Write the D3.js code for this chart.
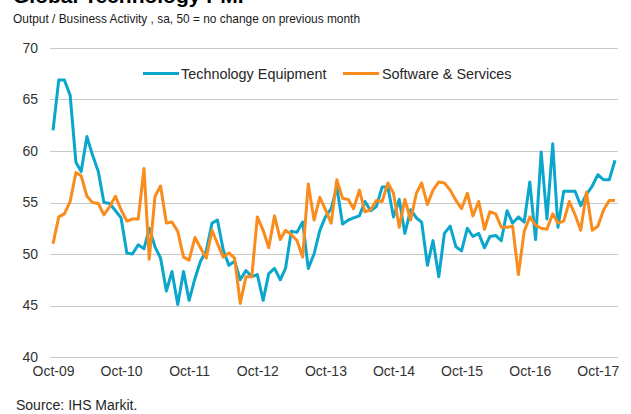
<!DOCTYPE html>
<html><head><meta charset="utf-8">
<script src="https://cdn.jsdelivr.net/npm/d3@7"></script>
<style>
html,body{margin:0;padding:0;background:#fff;}
svg{display:block;font-family:"Liberation Sans",Arial,sans-serif;}
</style></head>
<body><svg id="c" width="631" height="414"></svg>
<script>
const title = "Global Technology PMI";
const subtitle = "Output / Business Activity , sa, 50 = no change on previous month";
const source = "Source: IHS Markit.";
const startMonth = new Date(2009, 9, 1);
const endMonth = new Date(2018, 0, 1);
const seriesNames = ["Technology Equipment", "Software & Services"];
const seriesColors = ["#0BA6CC", "#FA8C1E"];
const yTicks = [40, 45, 50, 55, 60, 65, 70];
const xTickLabels = ["Oct-09","Oct-10","Oct-11","Oct-12","Oct-13","Oct-14","Oct-15","Oct-16","Oct-17"];

const techEquipment = [
62.0,66.9,66.9,65.4,58.9,58.0,61.4,59.6,58.0,55.0,
54.9,54.2,53.5,50.1,50.0,50.9,50.5,52.5,50.7,49.6,
46.4,48.3,45.1,48.3,45.5,47.6,49.3,50.3,53.0,53.3,
50.4,48.9,49.3,47.5,48.4,47.8,48.0,45.5,48.1,48.6,
47.5,48.6,52.2,52.1,53.1,48.6,50.0,52.3,53.6,54.4,
56.5,52.9,53.3,53.5,53.7,55.1,54.2,54.6,56.5,56.5,
53.6,55.3,52.0,54.3,53.5,53.1,48.9,51.3,47.8,52.0,
52.7,50.7,50.3,52.5,51.7,52.0,50.6,51.7,51.8,51.3,
54.2,53.0,53.6,53.1,57.0,51.4,59.9,53.4,60.7,52.6,
56.1,56.1,56.1,54.7,55.8,56.6,57.7,57.2,57.2,59.1];

const softwareServices = [
51.0,53.6,53.9,55.1,57.9,57.6,55.6,55.0,54.9,53.8,
54.6,55.6,54.3,53.2,53.4,53.4,58.3,49.5,55.6,56.6,
53.0,53.1,52.2,49.7,49.4,51.6,50.6,49.6,52.3,51.0,
49.7,50.1,49.6,45.2,47.8,47.8,53.6,52.3,50.6,53.7,
51.4,52.3,51.9,51.3,49.7,56.8,53.3,55.5,54.3,53.0,
57.2,55.4,55.3,54.4,56.2,54.1,54.3,55.2,55.1,56.9,
55.9,52.6,55.3,53.3,55.9,56.9,54.8,56.2,57.0,56.9,
56.2,55.2,54.4,55.9,53.7,55.1,52.4,54.1,53.9,52.6,
52.6,52.7,48.0,52.2,53.6,52.8,52.5,52.4,53.9,53.0,
53.2,55.1,53.8,52.3,56.0,52.3,52.7,54.3,55.2,55.2];

const months = d3.timeMonth.range(startMonth, d3.timeMonth.offset(endMonth, 1));
const svg = d3.select("#c");

const x = d3.scaleTime().domain([startMonth, endMonth]).range([53, 615]);
const y = d3.scaleLinear().domain([40, 70]).range([357, 48]);

// title & subtitle (title is cropped at the top edge, as in the source image)
svg.append("text").attr("x", 13).attr("y", 3).attr("font-size", 21).attr("font-weight", "bold")
  .attr("fill", "#000").text(title);
svg.append("text").attr("x", 13).attr("y", 23).attr("font-size", 13.5)
  .attr("textLength", 347).attr("lengthAdjust", "spacingAndGlyphs")
  .attr("fill", "#1a1a1a").text(subtitle);

// gridlines
const gridX0 = 50, gridX1 = 618;
svg.append("g").selectAll("line").data(yTicks).join("line")
  .attr("x1", gridX0).attr("x2", gridX1)
  .attr("y1", d => Math.round(y(d)) + 0.5).attr("y2", d => Math.round(y(d)) + 0.5)
  .attr("stroke", "#c8c8c8").attr("stroke-width", 1);

// y axis labels
const yAxis = d3.axisLeft(y).tickValues(yTicks).tickSize(0).tickPadding(0);
const gy = svg.append("g").attr("transform", "translate(38,0)").call(yAxis);
gy.select(".domain").remove();
gy.selectAll("text").attr("font-size", 14).attr("fill", "#333")
  .attr("font-family", "'Liberation Sans',Arial,sans-serif");

// x axis labels
const xTickDates = xTickLabels.map((l, i) => d3.timeYear.offset(startMonth, i));
const xAxis = d3.axisBottom(x).tickValues(xTickDates).tickSize(0).tickPadding(0)
  .tickFormat((d, i) => xTickLabels[i]);
const gx = svg.append("g").attr("transform", "translate(0,366)").call(xAxis);
gx.select(".domain").remove();
gx.selectAll("text").attr("font-size", 14).attr("fill", "#333")
  .attr("font-family", "'Liberation Sans',Arial,sans-serif");

// lines
const line = d3.line().x((d, i) => x(months[i])).y(d => y(d));
[techEquipment, softwareServices].forEach((s, k) => {
  svg.append("path").datum(s).attr("d", line).attr("fill", "none")
    .attr("stroke", seriesColors[k]).attr("stroke-width", 3)
    .attr("stroke-linejoin", "round");
});

// legend
const legendItems = [{x: 143, tx: 181}, {x: 343, tx: 382}];
legendItems.forEach((p, k) => {
  svg.append("line").attr("x1", p.x).attr("x2", p.x + 36).attr("y1", 73.5).attr("y2", 73.5)
    .attr("stroke", seriesColors[k]).attr("stroke-width", 3);
  svg.append("text").attr("x", p.tx).attr("y", 78.5).attr("font-size", 14.4).attr("fill", "#262626")
    .text(seriesNames[k]);
});

// source
svg.append("text").attr("x", 16).attr("y", 410).attr("font-size", 14).attr("fill", "#262626").text(source);
</script></body></html>
